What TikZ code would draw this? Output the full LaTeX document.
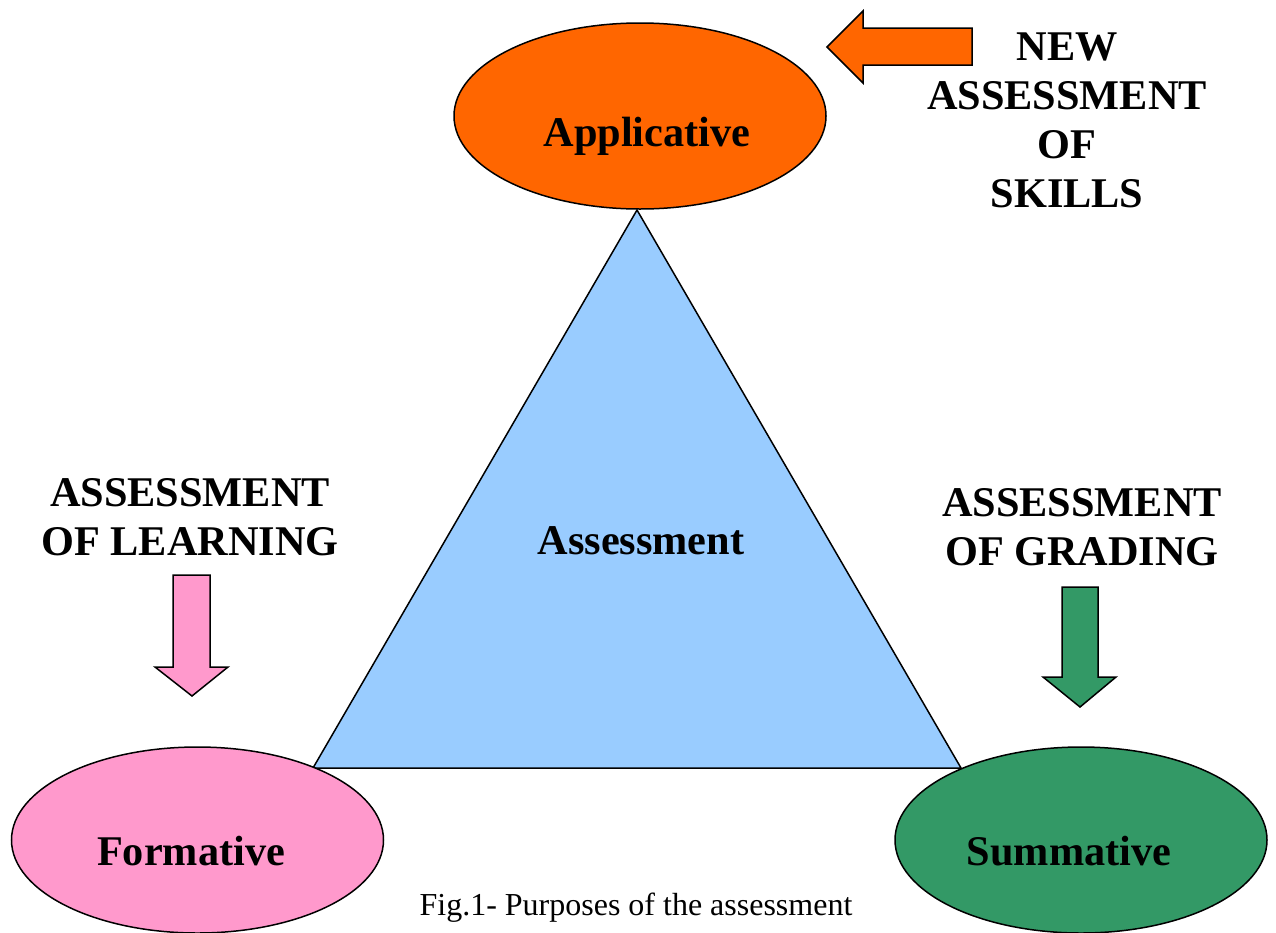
\documentclass[tikz,border=0pt]{standalone}
\usepackage{fontspec}
\setmainfont{Liberation Serif}
\usetikzlibrary{shapes.geometric}
\definecolor{applorange}{HTML}{FF6600}
\definecolor{triblue}{HTML}{99CCFF}
\definecolor{formpink}{HTML}{FF99CC}
\definecolor{sumgreen}{HTML}{339966}
\tikzset{
  ell/.style={ellipse, draw=black, line width=1.5pt, minimum width=372pt, minimum height=186pt, inner sep=0pt},
  bigtxt/.style={inner sep=0pt, anchor=base, font=\fontsize{42.3}{49}\selectfont\bfseries, align=center},
  blockarrow/.style={draw=black, line width=1.5pt, line join=miter},
  captxt/.style={inner sep=0pt, anchor=base, font=\fontsize{32}{38}\selectfont}
}
\begin{document}
\begin{tikzpicture}[x=1pt,y=-1pt]
\useasboundingbox (0,0) rectangle (1276,932);
\clip (0,0) rectangle (1276,932);
% triangle
\coordinate (apex) at (637,210);
\coordinate (bl) at (313,768);
\coordinate (br) at (961,768);
\draw[fill=triblue, line width=1.5pt, line join=miter] (apex) -- (bl) -- (br) -- cycle;
% ellipses
\node[ell, fill=applorange] (appl) at (640,116) {};
\node[ell, fill=formpink] (form) at (197.5,840) {};
\node[ell, fill=sumgreen] (summ) at (1081,840) {};
% labels
\node[bigtxt] (appltxt) at (647,146) {Applicative};
\node[bigtxt] (assess) at (641,554) {Assessment};
\node[bigtxt] (formtxt) at (191,865) {Formative};
\node[bigtxt] (summtxt) at (1069,865) {Summative};
\node[bigtxt] (newtxt) at (1067,207) {NEW\\ASSESSMENT\\OF\\SKILLS};
\node[bigtxt] (learn) at (190,555) {ASSESSMENT\\OF LEARNING};
\node[bigtxt] (grade) at (1082,565) {ASSESSMENT\\OF GRADING};
\node[captxt] (cap) at (636,915) {Fig.1- Purposes of the assessment};
% block arrows
\draw[blockarrow, fill=applorange] (972,28) -- (863,28) -- (863,11) -- (827,47) -- (863,83) -- (863,65) -- (972,65) -- cycle;
\draw[blockarrow, fill=formpink] (173,575) -- (210,575) -- (210,667) -- (228,667) -- (192,696) -- (155,667) -- (173,667) -- cycle;
\draw[blockarrow, fill=sumgreen] (1062,587) -- (1098,587) -- (1098,677) -- (1116,677) -- (1080,707) -- (1043,677) -- (1062,677) -- cycle;
\end{tikzpicture}
\end{document}
